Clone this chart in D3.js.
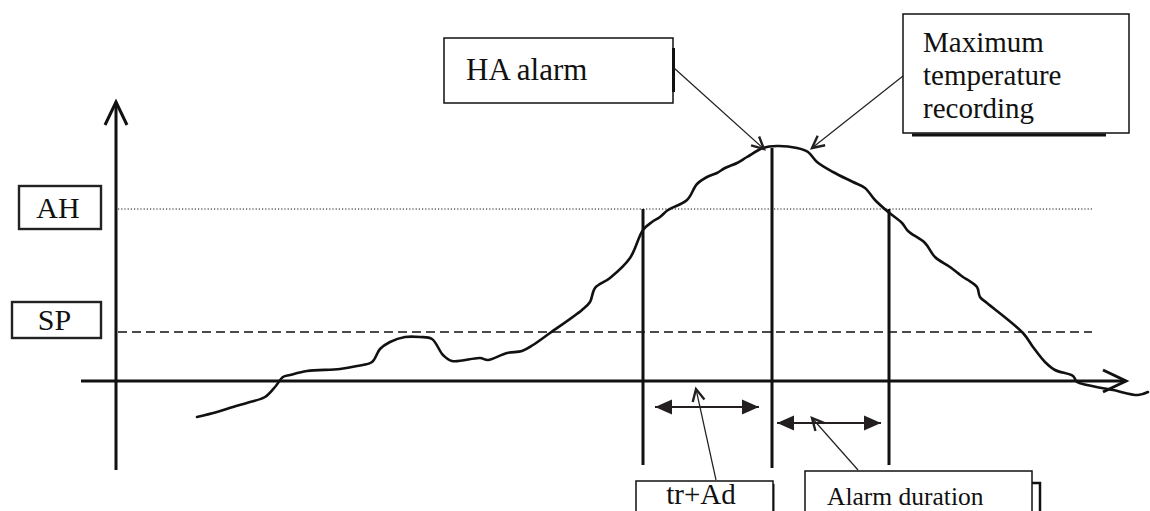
<!DOCTYPE html>
<html>
<head>
<meta charset="utf-8">
<script src="https://cdn.jsdelivr.net/npm/d3@7/dist/d3.min.js"></script>
<style>
  html, body { margin: 0; padding: 0; background: #fff; }
  svg { display: block; }
  text { font-family: "Liberation Serif", "Times New Roman", serif; fill: #111; }
</style>
</head>
<body>
<svg id="chart" width="1150" height="511"></svg>
<script>
// Temperature trace over time (time units, temperature units relative to the time axis)
const traceTime = [8.1, 10.1, 11.7, 13.4, 14.9, 15.9, 16.7, 17.4, 19.1, 22.4, 24.1, 25.6, 26.4, 27.4, 28.9, 30.4,
  31.6, 32.7, 33.6, 36.4, 37.2, 39.1, 40.6, 41.7, 43.4, 46.6, 47.4, 47.9, 49.4, 51.4, 52.7, 53.6, 54.4, 55.2,
  57.1, 58.1, 59.1, 60.1, 60.9, 62.1, 63.1, 64.7, 66.1, 68.1, 69.2, 70.1, 71.7, 73.7, 74.9, 75.9, 77.1, 78.6,
  79.2, 80.9, 81.9, 83.4, 84.7, 85.2, 86.1, 86.4, 87.1, 90.7, 91.7, 92.9, 93.9, 95.7, 96.1, 97.1, 99.7, 102.2, 103.2];
const traceTemp = [-3.6, -3.1, -2.6, -2.1, -1.6, -0.6, 0.4, 0.6, 1.0, 1.2, 1.5, 1.9, 3.2, 3.9, 4.4, 4.4,
  4.2, 2.6, 2.0, 2.3, 2.1, 2.8, 3.0, 3.6, 4.8, 7.1, 7.9, 9.3, 10.3, 12.3, 15.1, 15.9, 16.4, 17.1,
  18.1, 19.7, 20.4, 20.8, 21.3, 21.8, 22.4, 23.3, 23.5, 23.3, 22.9, 21.9, 20.9, 19.9, 19.3, 18.1, 17.0, 15.8,
  15.0, 13.8, 12.4, 11.4, 10.4, 10.1, 9.4, 8.4, 7.8, 4.8, 3.4, 1.9, 1.1, 0.5, -0.1, -0.4, -0.9, -1.4, -1.1];

// Threshold levels
const levelNames = ["AH", "SP"];
const levelValues = [17.2, 4.9];

// Event times: AH crossed going up, peak (HA alarm), AH crossed going down
const eventNames = ["ahUp", "peak", "ahDown"];
const eventTimes = [52.7, 65.6, 77.3];
const peakTemp = 23.3;

// Interval annotations
const intervalLabels = ["tr+Ad", "Alarm duration"];
const intervalStart = [53.9, 66.1];
const intervalEnd = [64.3, 76.5];

const svg = d3.select("#chart");
const ink = "#111";

const x = d3.scaleLinear().domain([0, 100]).range([116, 1116]);
const y = d3.scaleLinear().domain([0, 25]).range([381, 131]);

// Markers
const defs = svg.append("defs");
defs.append("marker").attr("id", "axisHead").attr("markerUnits", "userSpaceOnUse")
  .attr("viewBox", "-26 -14 30 28").attr("markerWidth", 30).attr("markerHeight", 28)
  .attr("refX", 0).attr("refY", 0).attr("orient", "auto")
  .append("path").attr("d", "M-23,-11 L0,0 L-23,11").attr("fill", "none")
  .attr("stroke", ink).attr("stroke-width", 3);
defs.append("marker").attr("id", "pointHead").attr("markerUnits", "userSpaceOnUse")
  .attr("viewBox", "-16 -9 20 18").attr("markerWidth", 20).attr("markerHeight", 18)
  .attr("refX", 0).attr("refY", 0).attr("orient", "auto")
  .append("path").attr("d", "M-12,-6 L0,0 L-12,6").attr("fill", "none")
  .attr("stroke", "#231f20").attr("stroke-width", 2.4);
defs.append("marker").attr("id", "solidHead").attr("markerUnits", "userSpaceOnUse")
  .attr("viewBox", "-18 -9 19 18").attr("markerWidth", 19).attr("markerHeight", 18)
  .attr("refX", 0).attr("refY", 0).attr("orient", "auto-start-reverse")
  .append("path").attr("d", "M-17,-7.5 L0,0 L-17,7.5 Z").attr("fill", "#231f20");

// Threshold lines
const levelStyle = { AH: { dash: "1.2,2", width: 1.2 }, SP: { dash: "9,5", width: 1.6 } };
levelNames.forEach((n, i) => {
  svg.append("line")
    .attr("x1", x(0.2)).attr("x2", x(97.6))
    .attr("y1", y(levelValues[i])).attr("y2", y(levelValues[i]))
    .attr("stroke", ink).attr("stroke-width", levelStyle[n].width)
    .attr("stroke-dasharray", levelStyle[n].dash);
});

// Axes
svg.append("line").attr("x1", x(0)).attr("x2", x(0))
  .attr("y1", y(-8.9)).attr("y2", y(27.9))
  .attr("stroke", ink).attr("stroke-width", 3).attr("marker-end", "url(#axisHead)");
svg.append("line").attr("x1", x(-3.5)).attr("x2", x(101))
  .attr("y1", y(0)).attr("y2", y(0))
  .attr("stroke", ink).attr("stroke-width", 3).attr("marker-end", "url(#axisHead)");

// Level label boxes
const levelBoxes = { AH: { x: 19, y: 186, w: 82, h: 43 }, SP: { x: 12, y: 302, w: 89, h: 36 } };
levelNames.forEach(n => {
  const b = levelBoxes[n];
  svg.append("rect").attr("x", b.x).attr("y", b.y).attr("width", b.w).attr("height", b.h)
    .attr("fill", "#fff").attr("stroke", "#222").attr("stroke-width", 2.4);
  svg.append("text").attr("x", b.x + b.w / 2 - 2).attr("y", b.y + b.h / 2 + 10)
    .attr("text-anchor", "middle").attr("font-size", 30).text(n);
});

// Event vertical lines
const eventTop = [levelValues[0], peakTemp, levelValues[0]];
const eventBottom = [-8.4, -8.7, -8.4];
eventNames.forEach((n, i) => {
  svg.append("line").attr("x1", x(eventTimes[i])).attr("x2", x(eventTimes[i]))
    .attr("y1", y(eventTop[i])).attr("y2", y(eventBottom[i]))
    .attr("stroke", ink).attr("stroke-width", 3);
});

// Temperature trace
const trace = traceTime.map((t, i) => [t, traceTemp[i]]);
svg.append("path").datum(trace)
  .attr("d", d3.line().x(d => x(d[0])).y(d => y(d[1])).curve(d3.curveCatmullRom.alpha(0.5)))
  .attr("fill", "none").attr("stroke", ink).attr("stroke-width", 2.6)
  .attr("stroke-linejoin", "round").attr("stroke-linecap", "round");

// Interval double arrows
const intervalLevel = [-2.6, -4.2];
intervalLabels.forEach((l, i) => {
  svg.append("line").attr("x1", x(intervalStart[i])).attr("x2", x(intervalEnd[i]))
    .attr("y1", y(intervalLevel[i])).attr("y2", y(intervalLevel[i]))
    .attr("stroke", "#231f20").attr("stroke-width", 2.2)
    .attr("marker-start", "url(#solidHead)").attr("marker-end", "url(#solidHead)");
});

// Callout boxes
function box(bx, by, bw, bh, sw) {
  svg.append("rect").attr("x", bx).attr("y", by).attr("width", bw).attr("height", bh)
    .attr("fill", "#fff").attr("stroke", ink).attr("stroke-width", sw);
}
function pointer(x1, y1, x2, y2) {
  svg.append("line").attr("x1", x1).attr("y1", y1).attr("x2", x2).attr("y2", y2)
    .attr("stroke", "#231f20").attr("stroke-width", 1.2).attr("marker-end", "url(#pointHead)");
}

// HA alarm
box(444, 38, 229, 65, 1.5);
svg.append("line").attr("x1", 673.5).attr("x2", 673.5).attr("y1", 48).attr("y2", 92)
  .attr("stroke", ink).attr("stroke-width", 3);
svg.append("text").attr("x", 466).attr("y", 80).attr("font-size", 31).text("HA alarm");
pointer(674, 68, x(eventTimes[1]) - 8, y(peakTemp) + 1);

// Maximum temperature recording
svg.append("line").attr("x1", 912).attr("x2", 1106).attr("y1", 135).attr("y2", 135)
  .attr("stroke", ink).attr("stroke-width", 3);
box(903, 14, 226, 119, 1.5);
["Maximum", "temperature", "recording"].forEach((s, i) => {
  svg.append("text").attr("x", 923).attr("y", 52 + i * 33).attr("font-size", 29).text(s);
});
pointer(903, 76, x(eventTimes[1]) + 40, y(peakTemp));

// tr+Ad
svg.append("line").attr("x1", 773).attr("x2", 773).attr("y1", 484).attr("y2", 511)
  .attr("stroke", ink).attr("stroke-width", 3);
box(636, 481, 137, 40, 1.5);
svg.append("text").attr("x", 701).attr("y", 504).attr("text-anchor", "middle")
  .attr("font-size", 29).text(intervalLabels[0]);
pointer(716, 480, x((intervalStart[0] + intervalEnd[0]) / 2) - 11, y(intervalLevel[0]) - 18);

// Alarm duration
svg.append("path").attr("d", "M1032,483 H1040 V511").attr("fill", "none")
  .attr("stroke", ink).attr("stroke-width", 2.5);
box(805, 471, 227, 50, 1.5);
svg.append("text").attr("x", 827).attr("y", 505).attr("font-size", 25.5).text(intervalLabels[1]);
pointer(858, 470, x((intervalStart[1] + intervalEnd[1]) / 2) - 17, y(intervalLevel[1]) - 5);
</script>
</body>
</html>
